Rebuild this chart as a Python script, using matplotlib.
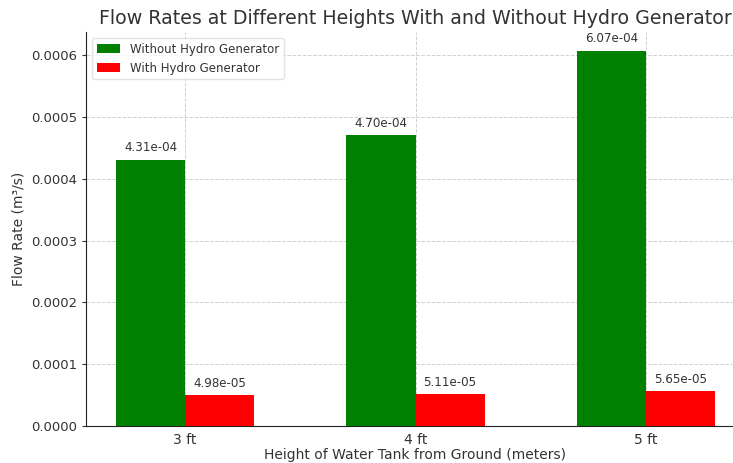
import numpy as np
import matplotlib.pyplot as plt

heights = ["3 ft", "4 ft", "5 ft"]
without_gen = [4.31e-04, 4.70e-04, 6.07e-04]
with_gen = [4.98e-05, 5.11e-05, 5.65e-05]

text_color = "#333333"
plt.rcParams['font.family'] = ['DejaVu Sans']
plt.rcParams['text.color'] = text_color
plt.rcParams['axes.labelcolor'] = text_color
plt.rcParams['xtick.color'] = text_color
plt.rcParams['ytick.color'] = text_color

fig = plt.figure(figsize=(7.33, 4.63), dpi=100)
ax = fig.add_axes([86 / 733, 37 / 463, 659 / 733, 394 / 463])

x = np.arange(len(heights))
width = 0.3
b1 = ax.bar(x - width / 2, without_gen, width, color="green", label="Without Hydro Generator", zorder=3)
b2 = ax.bar(x + width / 2, with_gen, width, color="red", label="With Hydro Generator", zorder=3)

for bars in (b1, b2):
    for rect in bars:
        h = rect.get_height()
        ax.annotate(f"{h:.2e}", xy=(rect.get_x() + rect.get_width() / 2, h),
                    xytext=(0, 4), textcoords="offset points",
                    ha="center", va="bottom", fontsize=8.6, color=text_color)

ax.set_xticks(x)
ax.set_xticklabels(heights, fontsize=10)
ax.tick_params(axis="y", labelsize=9.5, length=3)
ax.tick_params(axis="x", length=0, pad=5)
ax.set_xlabel("Height of Water Tank from Ground (meters)", fontsize=10, labelpad=1)
ax.set_ylabel("Flow Rate (m³/s)", fontsize=10, labelpad=4)
ax.set_title("Flow Rates at Different Heights With and Without Hydro Generator",
             fontsize=13.7, color=text_color, pad=6)

ax.grid(True, linestyle="--", color="#d0d0d0", linewidth=0.7, zorder=0)
ax.spines["top"].set_visible(False)
ax.spines["right"].set_visible(False)
ax.spines["left"].set_color("#222222")
ax.spines["bottom"].set_color("#222222")

ax.legend(loc="upper left", fontsize=8.5, frameon=True, edgecolor="#dddddd")

fig.savefig("out.png", dpi=100)
